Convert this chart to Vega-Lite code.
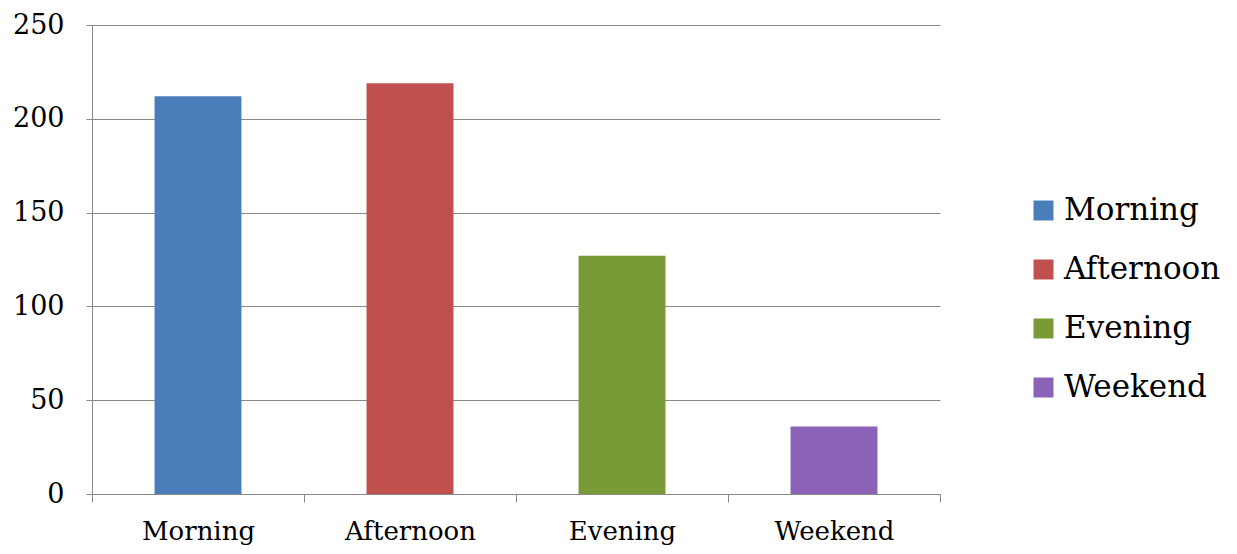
{
  "$schema": "https://vega.github.io/schema/vega-lite/v6.json",
  "width": 848,
  "height": 469,
  "autosize": {"type": "none"},
  "padding": {"left": 92, "top": 25, "right": 297, "bottom": 60},
  "background": "white",
  "data": {"values": [
    {"period": "Morning", "value": 212},
    {"period": "Afternoon", "value": 219},
    {"period": "Evening", "value": 127},
    {"period": "Weekend", "value": 36}
  ]},
  "mark": {"type": "bar", "width": {"band": 0.41}},
  "encoding": {
    "x": {
      "field": "period", "type": "nominal", "sort": ["Morning", "Afternoon", "Evening", "Weekend"],
      "scale": {"paddingInner": 0, "paddingOuter": 0},
      "axis": {"title": null, "labelAngle": 0, "tickBand": "extent", "tickSize": 8, "labelPadding": 16,
               "labelFont": "DejaVu Serif", "labelFontSize": 26, "labelColor": "#000", "domainColor": "#888", "tickColor": "#888", "grid": false}
    },
    "y": {
      "field": "value", "type": "quantitative",
      "scale": {"domain": [0, 250]},
      "axis": {"title": null, "values": [0, 50, 100, 150, 200, 250], "tickSize": 6, "labelPadding": 22,
               "labelFont": "DejaVu Serif", "labelFontSize": 27, "labelColor": "#000", "domainColor": "#888", "tickColor": "#888", "gridColor": "#888", "gridOpacity": 1}
    },
    "color": {
      "field": "period", "type": "nominal", "sort": ["Morning", "Afternoon", "Evening", "Weekend"],
      "scale": {"domain": ["Morning", "Afternoon", "Evening", "Weekend"], "range": ["#4a7ebb", "#c0504d", "#789a37", "#8a62b8"]},
      "legend": {"title": null, "orient": "none", "legendX": 936, "legendY": 170, "symbolType": "square", "symbolSize": 400, "symbolStrokeWidth": 0,
                 "labelFont": "DejaVu Serif", "labelFontSize": 31, "labelColor": "#000", "rowPadding": 27, "labelOffset": 5, "labelLimit": 300}
    }
  },
  "config": {"view": {"stroke": null}}
}
